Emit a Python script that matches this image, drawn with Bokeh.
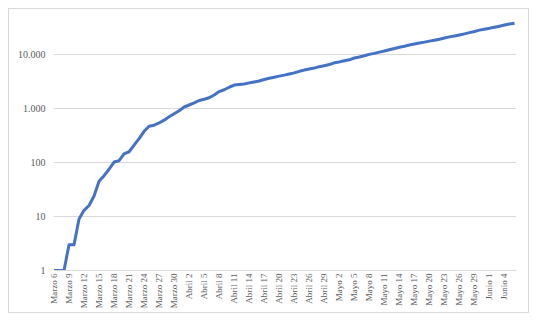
import math
from bokeh.plotting import figure
from bokeh.models import FixedTicker, Range1d
from bokeh.embed import file_html
from bokeh.resources import INLINE

# Daily dates (Marzo 6 .. Junio 6) and cumulative cases
months = ["Marzo"] * 26 + ["Abril"] * 30 + ["Mayo"] * 31 + ["Junio"] * 6
days = list(range(6, 32)) + list(range(1, 31)) + list(range(1, 32)) + list(range(1, 7))
dates = [f"{m} {d}" for m, d in zip(months, days)]

cases = [
    1, 1, 1, 3, 3, 9, 13, 16, 24, 45, 57, 75, 102, 108, 145, 158, 210, 277, 378, 470,
    491, 539, 608, 702, 798, 906,  # Marzo
    1065, 1161, 1267, 1406, 1485, 1579, 1780, 2054, 2223, 2473, 2709, 2776, 2852, 2979,
    3105, 3233, 3439, 3621, 3792, 3977, 4149, 4356, 4561, 4881, 5142, 5379, 5597, 5949,
    6207, 6507,  # Abril
    7006, 7285, 7668, 7973, 8613, 8959, 9456, 10051, 10495, 11063, 11613, 12272, 12930,
    13610, 14216, 14939, 15574, 16295, 16935, 17687, 18330, 19131, 20177, 21175, 21981,
    23003, 24104, 25366, 26688, 28236, 29383,  # Mayo
    30493, 31833, 33354, 35120, 36635, 38027,  # Junio
]

y_ticks = [1, 10, 100, 1000, 10000]
y_tick_labels = ["1", "10", "100", "1.000", "10.000"]

x = list(range(len(dates)))
x_ticks = list(range(0, len(dates), 3))

p = figure(
    width=521, height=305,
    y_axis_type="log",
    x_range=Range1d(-0.1, 92.4),
    y_range=Range1d(1, 48400),
    output_backend="svg",
    toolbar_location=None,
    min_border_left=44, min_border_right=14, min_border_top=8, min_border_bottom=44,
    styles={"border": "1px solid #d9d9d9", "box-sizing": "border-box",
            "margin": "8px 0 0 8px"},
)
p.outline_line_color = None
p.background_fill_color = "white"
p.border_fill_color = "white"

p.line(x, cases, line_color="#4472C4", line_width=3, line_join="round")

font = "Liberation Serif"
p.yaxis.ticker = FixedTicker(ticks=y_ticks)
p.yaxis.major_label_overrides = {t: l for t, l in zip(y_ticks, y_tick_labels)}
p.yaxis.axis_line_color = None
p.yaxis.major_tick_line_color = None
p.yaxis.minor_tick_line_color = None
p.yaxis.major_tick_out = 0
p.yaxis.major_tick_in = 0
p.yaxis.minor_tick_out = 0
p.yaxis.major_label_text_font = font
p.yaxis.major_label_text_font_size = "10px"
p.yaxis.major_label_text_color = "#595959"
p.yaxis.major_label_standoff = 8

p.xaxis.ticker = FixedTicker(ticks=x_ticks)
p.xaxis.major_label_overrides = {i: dates[i] for i in x_ticks}
p.xaxis.major_label_orientation = math.pi / 2
p.xaxis.axis_line_color = "#d9d9d9"
p.xaxis.major_tick_line_color = None
p.xaxis.minor_tick_line_color = None
p.xaxis.major_tick_out = 0
p.xaxis.major_tick_in = 0
p.xaxis.minor_tick_out = 0
p.xaxis.major_label_text_font = font
p.xaxis.major_label_text_font_size = "9px"
p.xaxis.major_label_text_color = "#595959"
p.xaxis.major_label_standoff = 3

p.xgrid.grid_line_color = None
p.ygrid.grid_line_color = "#d9d9d9"
p.ygrid.minor_grid_line_color = None

open("out.html", "w").write(file_html(p, INLINE))
